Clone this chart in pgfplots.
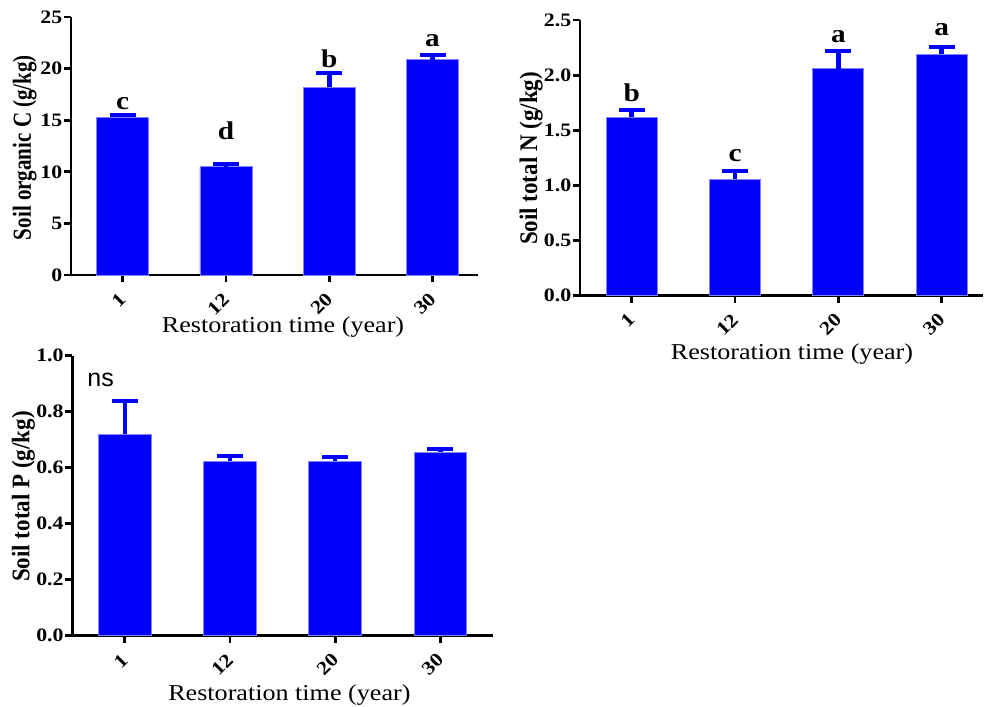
\documentclass[border=0pt]{standalone}
\usepackage{fontspec}
\setmainfont{Liberation Serif}[FakeStretch=1.15]
\newfontfamily\plainserif{Liberation Serif}
\newfontfamily\nsfont{Liberation Sans}
\usepackage{pgfplots}
\pgfplotsset{compat=1.18}
\definecolor{barblue}{RGB}{0,0,255}
\definecolor{edgeblue}{RGB}{130,130,255}
\tikzset{letter/.style={font=\fontsize{25.5}{25.5}\selectfont\bfseries, anchor=base, inner sep=0pt}}
\pgfplotsset{
  panel/.style={
    scale only axis,
    anchor=south west,
    axis lines=left,
    axis line style={-, line width=2.8pt, black},
    ymin=0,
    xmin=-0.5,
    xtick={0,1,2,3},
    xticklabels={1,12,20,30},
    tick align=outside,
    major tick length=7pt,
    tick style={line width=2.8pt, black},
    /pgf/number format/assume math mode=true,
    yticklabel style={font=\fontsize{19}{19}\selectfont\bfseries, inner sep=1.5pt},
    xticklabel style={font=\fontsize{19}{19}\selectfont\bfseries, rotate=45, anchor=east, inner sep=0pt},
    xticklabel shift=14pt,
    xlabel style={font=\fontsize{22.7}{22.7}\selectfont, anchor=base, inner sep=0pt},
    ylabel style={anchor=base},
    clip=false,
    ybar,
  },
  bars/.style={
    fill=barblue, draw=edgeblue, line width=0.8pt,
    error bars/.cd, y dir=plus, y explicit,
    error bar style={line width=4.5pt, barblue},
    error mark options={rotate=90, line width=4pt, barblue, mark size=13pt},
  },
}
\begin{document}
\begin{tikzpicture}
\useasboundingbox (0,0) rectangle (984pt,706pt);
% Panel 1: Soil organic C
\begin{axis}[panel,
  at={(71pt,431pt)}, width=407pt, height=258pt,
  xmax=3.44, ymax=25, ytick={0,5,10,15,20,25},
  bar width=52pt,
  xlabel={Restoration time (year)},
  xlabel style={at={(axis description cs:0.521,0)}, yshift=-58pt},
  ylabel={\plainserif\fontsize{21}{21}\selectfont\bfseries\scalebox{1}[1.24]{Soil organic C (g/kg)}},
  ylabel style={at={(axis description cs:0,0.494)}, yshift=40pt},
]
\addplot[bars] coordinates {
  (0,15.28) +- (0,0.19)
  (1,10.50) +- (0,0.26)
  (2,18.20) +- (0,1.34)
  (3,20.86) +- (0,0.49)
};
\node[letter] at (axis cs:0,16.0) {c};
\node[letter] at (axis cs:1,13.15) {d};
\node[letter] at (axis cs:2,20.09) {b};
\node[letter] at (axis cs:3,22.12) {a};
\end{axis}
% Panel 2: Soil total N
\begin{axis}[panel,
  at={(580pt,410.3pt)}, width=403pt, height=275.7pt,
  xmax=3.4, ymax=2.5, ytick={0,0.5,1.0,1.5,2.0,2.5},
  yticklabel={\pgfmathprintnumber[fixed,fixed zerofill,precision=1]{\tick}},
  bar width=51pt,
  xlabel={Restoration time (year)},
  xlabel style={at={(axis description cs:0.526,0)}, yshift=-64.3pt},
  ylabel={\plainserif\fontsize{23}{23}\selectfont\bfseries\scalebox{1}[1.1]{Soil total N (g/kg)}},
  ylabel style={at={(axis description cs:0,0.498)}, yshift=43pt},
]
\addplot[bars] coordinates {
  (0,1.617) +- (0,0.067)
  (1,1.058) +- (0,0.073)
  (2,2.060) +- (0,0.158)
  (3,2.190) +- (0,0.067)
};
\node[letter] at (axis cs:0,1.759) {b};
\node[letter] at (axis cs:1,1.215) {c};
\node[letter] at (axis cs:2,2.297) {a};
\node[letter] at (axis cs:3,2.357) {a};
\end{axis}
% Panel 3: Soil total P
\begin{axis}[panel,
  at={(72.3pt,70.3pt)}, width=420.7pt, height=280pt,
  xmax=3.5, ymax=1.0, ytick={0,0.2,0.4,0.6,0.8,1.0},
  yticklabel={\pgfmathprintnumber[fixed,fixed zerofill,precision=1]{\tick}},
  bar width=52.7pt,
  xlabel={Restoration time (year)},
  xlabel style={at={(axis description cs:0.516,0)}, yshift=-64.3pt},
  ylabel={\plainserif\fontsize{23}{23}\selectfont\bfseries\scalebox{1}[1.1]{Soil total P (g/kg)}},
  ylabel style={at={(axis description cs:0,0.497)}, yshift=43pt},
]
\addplot[bars] coordinates {
  (0,0.719) +- (0,0.118)
  (1,0.623) +- (0,0.019)
  (2,0.623) +- (0,0.016)
  (3,0.656) +- (0,0.012)
};
\node[font=\nsfont\fontsize{25}{25}\selectfont, anchor=base, inner sep=0pt] at (axis cs:-0.23,0.889) {ns};
\end{axis}
\end{tikzpicture}
\end{document}
